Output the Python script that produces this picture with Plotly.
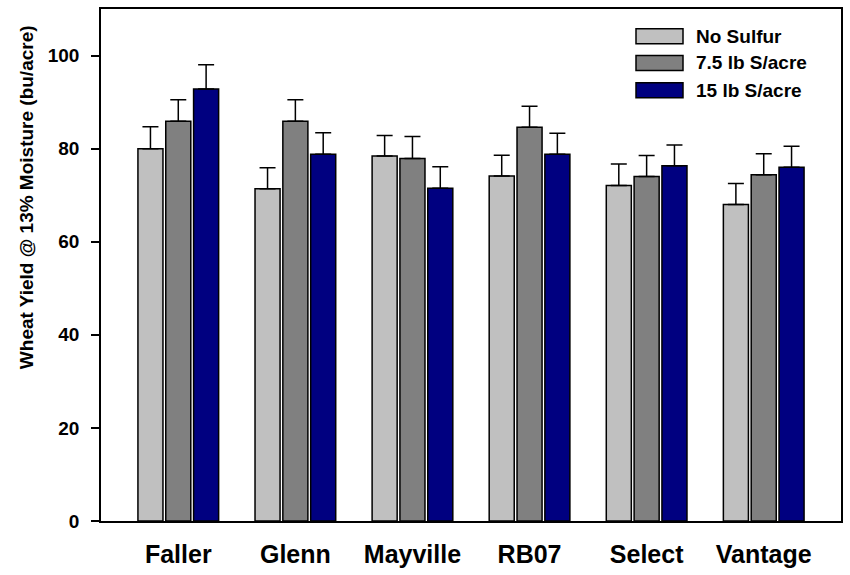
import plotly.graph_objects as go

# Wheat yield by variety and sulfur rate
varieties = ["Faller", "Glenn", "Mayville", "RB07", "Select", "Vantage"]
treatments = ["No Sulfur", "7.5 lb S/acre", "15 lb S/acre"]

yield_none = [80.0, 71.4, 78.4, 74.1, 72.1, 68.0]
yield_75 = [85.9, 85.9, 77.9, 84.6, 74.0, 74.4]
yield_15 = [92.8, 78.8, 71.5, 78.8, 76.3, 76.0]

err_none = [4.7, 4.5, 4.4, 4.5, 4.6, 4.5]
err_75 = [4.6, 4.6, 4.7, 4.5, 4.5, 4.5]
err_15 = [5.2, 4.6, 4.6, 4.5, 4.5, 4.5]

y_ticks = [0, 20, 40, 60, 80, 100]
colors = ["#C0C0C0", "#808080", "#000080"]

FONT = "Arial, 'Liberation Sans', sans-serif"

W, H = 850, 575
L, R, T, B = 101, 9, 7, 51
PW, PH = W - L - R, H - T - B


def px_x(px):
    return (px - L) / PW


def px_y(py):
    return (H - B - py) / PH


fig = go.Figure()
series = [(yield_none, err_none), (yield_75, err_75), (yield_15, err_15)]
for name, (vals, errs), col in zip(treatments, series, colors):
    fig.add_trace(go.Bar(
        x=varieties, y=vals, name=name,
        marker=dict(color=col, line=dict(color="black", width=1.5)),
        error_y=dict(type="data", array=errs, arrayminus=[0] * len(errs),
                     symmetric=False, color="black", thickness=1.5, width=8),
    ))

# Legend drawn as wide swatches with labels
row_centers = [34.5, 61.5, 89]
shapes = []
annotations = []
for name, col, cy in zip(treatments, colors, row_centers):
    shapes.append(dict(type="rect", xref="paper", yref="paper",
                       x0=px_x(636), x1=px_x(683), y0=px_y(cy + 7.5), y1=px_y(cy - 7.5),
                       fillcolor=col, line=dict(color="black", width=1.5)))
    annotations.append(dict(xref="paper", yref="paper", x=px_x(694), y=px_y(cy),
                            text=name, showarrow=False, xanchor="left", yanchor="middle",
                            font=dict(family=FONT, size=19, color="black", weight="bold")))

annotations.append(dict(xref="paper", yref="paper", x=px_x(26.5), y=px_y(197.5),
                        text="Wheat Yield @ 13% Moisture (bu/acre)", textangle=-90,
                        showarrow=False, xanchor="center", yanchor="middle",
                        font=dict(family=FONT, size=19, color="black", weight="bold")))

fig.update_layout(
    width=W, height=H,
    margin=dict(l=L, r=R, t=T, b=B, pad=0),
    paper_bgcolor="white", plot_bgcolor="white",
    barmode="group", bargap=0.287, bargroupgap=0.1,
    showlegend=False,
    font=dict(family=FONT, color="black", weight="bold"),
    shapes=shapes, annotations=annotations,
    xaxis=dict(range=[-0.66, 5.66], showline=True, linecolor="black", linewidth=1.5,
               mirror=True, ticks="", showgrid=False,
               tickfont=dict(family=FONT, size=25, color="black", weight="bold"),
               ticklabelstandoff=10),
    yaxis=dict(range=[0, 110], tickvals=y_ticks, showline=True, linecolor="black",
               linewidth=1.5, mirror=True, ticks="outside", ticklen=8, tickwidth=1.5,
               tickcolor="black", showgrid=False, zeroline=False,
               tickfont=dict(family=FONT, size=19, color="black", weight="bold"),
               ticklabelstandoff=8),
)

fig.write_html("out.html")
